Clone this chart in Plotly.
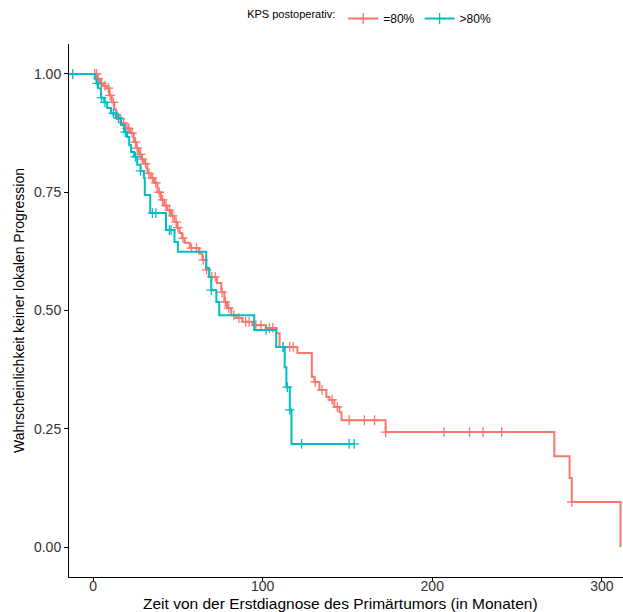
import numpy as np
import plotly.graph_objects as go

# ---- Data ----
red_name = "=80%"
teal_name = ">80%"

red_times = [0, 2.5, 4, 6, 8, 9.5, 11, 12.5, 13.6, 15, 16.5, 19, 22, 24, 25.5, 27, 28.5, 30, 32, 34, 36, 38,
             40, 42, 43.7, 46, 48, 49.5, 51, 52.5, 54, 57, 62.6, 64.4, 66.7, 68.5, 73, 75.6, 77.4, 79, 81.5,
             84.5, 88, 94, 102, 108, 110, 120.5, 129, 130.5, 133.5, 137.6, 139.4, 142.3, 145.3, 146.5,
             172.5, 272, 281, 282.3, 311]
red_surv = [1.0, 0.99, 0.98, 0.975, 0.97, 0.955, 0.94, 0.925, 0.913, 0.905, 0.896, 0.885, 0.875, 0.856, 0.843,
            0.83, 0.82, 0.81, 0.79, 0.78, 0.77, 0.75, 0.734, 0.722, 0.712, 0.70, 0.687, 0.675, 0.664, 0.653,
            0.643, 0.632, 0.62, 0.607, 0.586, 0.571, 0.558, 0.539, 0.518, 0.505, 0.49, 0.484, 0.476, 0.469,
            0.463, 0.452, 0.423, 0.41, 0.36, 0.349, 0.332, 0.317, 0.311, 0.296, 0.285, 0.268, 0.243, 0.192,
            0.146, 0.095, 0.0]
red_censor = [1, 2, 3, 5, 7, 9, 10, 12, 14, 16, 18, 20, 21, 23, 25, 26, 28, 29, 31, 33, 35, 37, 39, 41, 43, 45,
              47, 49, 50, 53, 58, 61, 65, 67, 70, 72, 76, 78, 80, 83, 86, 90, 92, 96, 99, 104, 106, 112, 116,
              118, 131, 135, 141, 144, 151, 160, 166, 172.5, 207, 222, 230, 241, 282.3]

teal_times = [-14, 1, 2, 3, 4.7, 6.5, 8.3, 10.6, 13.6, 16.5, 18.3, 20, 21.3, 22.4, 24.2, 26, 28, 30, 30.5, 33.7,
              43, 48, 50, 66.7, 68.5, 69.7, 72.7, 74.4, 95, 108, 113, 114, 116, 117]
teal_surv = [1.0, 0.99, 0.98, 0.97, 0.95, 0.94, 0.928, 0.917, 0.907, 0.892, 0.877, 0.867, 0.85, 0.835, 0.825,
             0.808, 0.795, 0.78, 0.744, 0.706, 0.67, 0.645, 0.624, 0.59, 0.571, 0.543, 0.518, 0.49, 0.459,
             0.423, 0.38, 0.338, 0.29, 0.218]
teal_censor = [-12, 2.5, 5, 7, 12, 15, 19, 25, 28, 35, 37, 45, 46, 69.7, 102, 112, 114.6, 116, 123, 151, 154]

x_ticks = [0, 100, 200, 300]
y_ticks = [0.0, 0.25, 0.50, 0.75, 1.00]

x_title = "Zeit von der Erstdiagnose des Primärtumors (in Monaten)"
y_title = "Wahrscheinlichkeit keiner lokalen Progression"
legend_title = "KPS postoperativ:"

RED = "#F8766D"
TEAL = "#00BFC4"


def step_value(times, surv, t):
    idx = np.searchsorted(np.array(times), t, side="right") - 1
    idx = max(idx, 0)
    return surv[idx]


def curve(times, surv, censor):
    xs = list(times)
    ys = list(surv)
    last = max(censor)
    if last > xs[-1]:
        xs.append(last)
        ys.append(ys[-1])
    return xs, ys


fig = go.Figure()
for name, times, surv, cens, col in [(red_name, red_times, red_surv, red_censor, RED),
                                      (teal_name, teal_times, teal_surv, teal_censor, TEAL)]:
    xs, ys = curve(times, surv, cens)
    fig.add_trace(go.Scatter(x=xs, y=ys, mode="lines", line=dict(color=col, width=2, shape="hv"),
                             showlegend=False, hoverinfo="skip"))
    cy = [step_value(times, surv, t) for t in cens]
    fig.add_trace(go.Scatter(x=cens, y=cy, mode="markers",
                             marker=dict(symbol="cross-thin", size=7, line=dict(width=1.3, color=col)),
                             showlegend=False))
    fig.add_trace(go.Scatter(x=[None], y=[None], mode="lines+markers", name=name,
                             line=dict(color=col, width=2),
                             marker=dict(symbol="cross-thin", size=8, line=dict(width=1.3, color=col))))

fig.update_layout(
    width=623, height=612,
    margin=dict(l=69, r=0, t=44, b=35, autoexpand=False),
    plot_bgcolor="white", paper_bgcolor="white",
    font=dict(family="Liberation Sans, Arial, sans-serif", color="black"),
    legend=dict(orientation="h", x=0.318, xanchor="left", y=1.075, yanchor="top",
                title=dict(text=legend_title, font=dict(size=11)),
                font=dict(size=12), itemwidth=30, bgcolor="rgba(0,0,0,0)"),
    xaxis=dict(range=[-14.2, 312.5], tickvals=x_ticks, ticks="outside", ticklen=4, tickcolor="black",
               showline=True, linecolor="black", linewidth=1, showgrid=False, zeroline=False,
               automargin=False, ticklabelstandoff=-8,
               tickfont=dict(size=14, color="#333333")),
    yaxis=dict(range=[-0.0634, 1.0634], tickvals=y_ticks, tickformat=".2f", ticks="outside", ticklen=4,
               tickcolor="black", showline=True, linecolor="black", linewidth=1, showgrid=False,
               zeroline=False, automargin=False, tickfont=dict(size=14, color="#333333"),
               title=dict(text=y_title, font=dict(size=14), standoff=6)),
    annotations=[dict(text=x_title, xref="paper", yref="paper", x=0.49, y=-0.05,
                      xanchor="center", yanchor="middle", showarrow=False, font=dict(size=15.5))],
)

fig.write_html("out.html", config={"displayModeBar": False},
               post_script="document.body.style.margin='0';document.body.style.padding='0';")
